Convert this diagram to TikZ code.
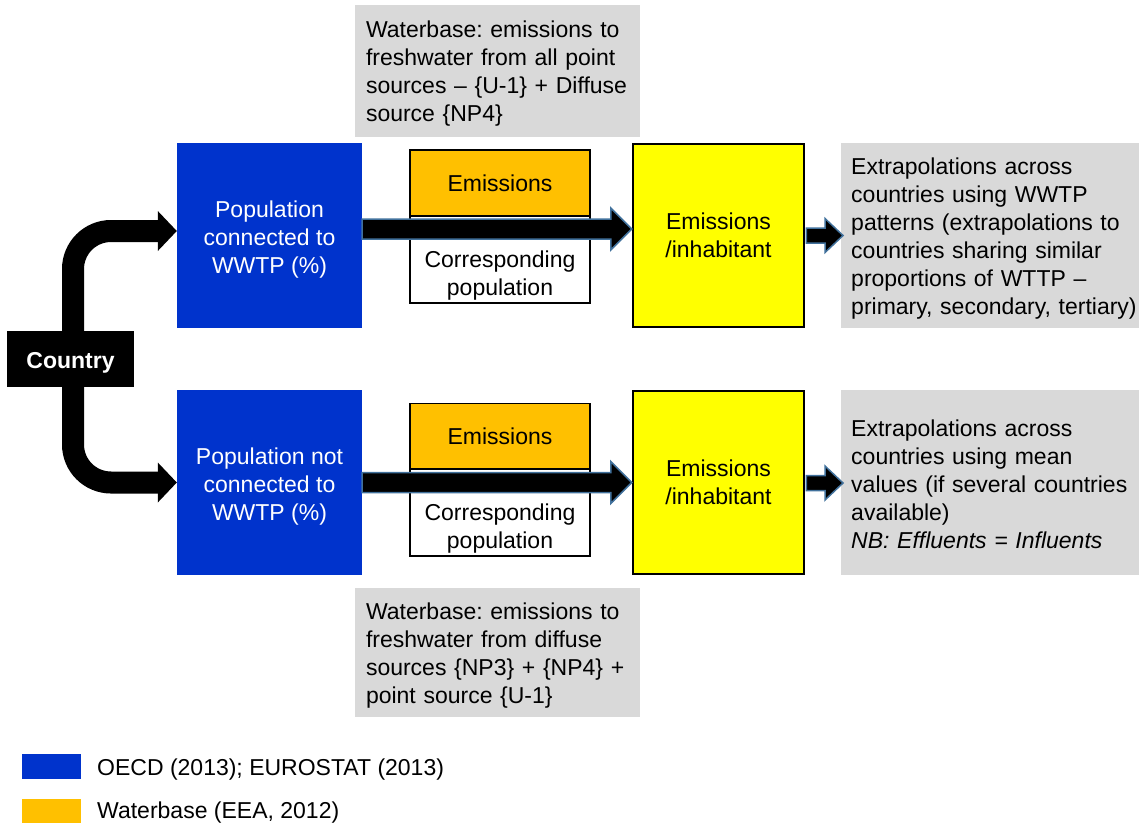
\documentclass[tikz,border=0pt]{standalone}
\usepackage{fontspec}
\setmainfont{Liberation Sans}
\usetikzlibrary{calc}
\frenchspacing
\definecolor{oecdblue}{RGB}{0,51,204}
\definecolor{wbase}{RGB}{255,192,0}
\definecolor{yel}{RGB}{255,255,0}
\definecolor{lgray}{RGB}{217,217,217}
\definecolor{arrblue}{RGB}{65,113,156}
\newcommand\blockarr[5]{%
\draw[barrow] let \p1=#1, \p2=#2 in (\x1,\y1+#3pt) -- (\x2-#5pt,\y1+#3pt) -- (\x2-#5pt,\y1+#4pt) -- (\x2,\y1) -- (\x2-#5pt,\y1-#4pt) -- (\x2-#5pt,\y1-#3pt) -- (\x1,\y1-#3pt) -- cycle;}
\tikzset{
  txt/.style={font=\fontsize{23}{28}\selectfont},
  bluebox/.style={txt, fill=oecdblue, text=white, align=center, minimum width=185pt, minimum height=185pt, inner sep=0pt, text height=75pt, text depth=0pt},
  emibox/.style={txt, fill=wbase, draw=black, line width=1.5pt, minimum width=180pt, minimum height=66pt, inner sep=0pt},
  popbox/.style={txt, fill=white, draw=black, line width=1.5pt, align=center, minimum width=180pt, minimum height=87pt, inner sep=0pt, text height=72pt, text depth=0pt},
  yelbox/.style={txt, fill=yel, draw=black, line width=2.5pt, align=center, minimum width=171pt, minimum height=183pt, inner sep=0pt, text height=44pt, text depth=0pt},
  graybox/.style={txt, fill=lgray, align=left, inner ysep=0pt, text height=17pt},
  barrow/.style={fill=black, draw=arrblue, line width=1.5pt, line join=miter},
  conn/.style={draw=black, line width=22pt, rounded corners=38pt},
  legbox/.style={minimum width=59pt, minimum height=25pt, inner sep=0pt},
}
\begin{document}
\begin{tikzpicture}[x=1pt,y=-1pt]
\useasboundingbox (0,0) rectangle (1139,823);
% top row
\node[graybox, minimum width=285pt, minimum height=132pt, text width=263pt, inner xsep=11pt, text depth=84pt] (gtop) at (497.5,71) {Waterbase: emissions to\\freshwater from all point\\sources -- \{U-1\} + Diffuse\\source \{NP4\}};
\node[bluebox] (b1) at (269.5,235.5) {Population\\connected to\\WWTP (\%)};
\node[emibox] (e1) at (500,183) {Emissions};
\node[popbox] (p1) at (500,259.5) {Corresponding\\population};
\node[yelbox] (y1) at (718.5,235.5) {Emissions\\/inhabitant};
\node[graybox, anchor=west, minimum width=298pt, minimum height=185pt, text width=290pt, inner xsep=10pt, text depth=139pt] (g1) at (841,235.5) {Extrapolations across\\countries using WWTP\\patterns (extrapolations to\\countries sharing similar\\proportions of WTTP --\\primary, secondary, tertiary)};
% bottom row
\node[bluebox] (b2) at (269.5,482.5) {Population not\\connected to\\WWTP (\%)};
\node[emibox] (e2) at (500,436.5) {Emissions};
\node[popbox] (p2) at (500,512.5) {Corresponding\\population};
\node[yelbox] (y2) at (718.5,482.5) {Emissions\\/inhabitant};
\node[graybox, anchor=west, minimum width=298pt, minimum height=185pt, text width=290pt, inner xsep=10pt, text depth=109pt] (g2) at (841,482.5) {Extrapolations across\\countries using mean\\values (if several countries\\available)\\\textit{NB: Effluents = Influents}};
\node[graybox, minimum width=285pt, minimum height=129pt, text width=263pt, inner xsep=11pt, text depth=83pt] (gbot) at (497.5,652.5) {Waterbase: emissions to\\freshwater from diffuse\\sources \{NP3\} + \{NP4\} +\\point source \{U-1\}};
% block arrows
\blockarr{([yshift=6.5pt]b1.east)}{([yshift=6.5pt]y1.west)}{10}{21}{21}
\blockarr{(b2.east)}{(y2.west)}{10}{21}{21}
\blockarr{([xshift=1pt]y1.east)}{([xshift=2pt]g1.west)}{7.5}{17}{18}
\blockarr{([xshift=1pt,yshift=-0.5pt]y2.east)}{([xshift=2pt,yshift=-0.5pt]g2.west)}{7.5}{17}{18}
% country
\node[txt, fill=black, text=white, font=\fontsize{23}{28}\selectfont\bfseries, minimum width=127pt, minimum height=56pt, inner sep=0pt, text height=18pt, text depth=0pt] (country) at (70.5,359) {Country};
\draw[conn] ([xshift=2.5pt]country.north) |- ([xshift=-19pt,yshift=4.5pt]b1.west);
\fill[black] ([yshift=4.5pt]b1.west) -- ++(-19,-20) -- ++(0,40) -- cycle;
\draw[conn] ([xshift=2.5pt]country.south) |- ([xshift=-19pt]b2.west);
\fill[black] (b2.west) -- ++(-19,-20) -- ++(0,40) -- cycle;
% legend
\node[legbox, fill=oecdblue] (l1) at (51.5,766.5) {};
\node[txt, anchor=west, inner sep=0pt] (l1t) at (97,770) {OECD (2013); EUROSTAT (2013)};
\node[legbox, fill=wbase, minimum height=24pt] (l2) at (51.5,811) {};
\node[txt, anchor=west, inner sep=0pt] (l2t) at (97,813) {Waterbase (EEA, 2012)};
\end{tikzpicture}
\end{document}
